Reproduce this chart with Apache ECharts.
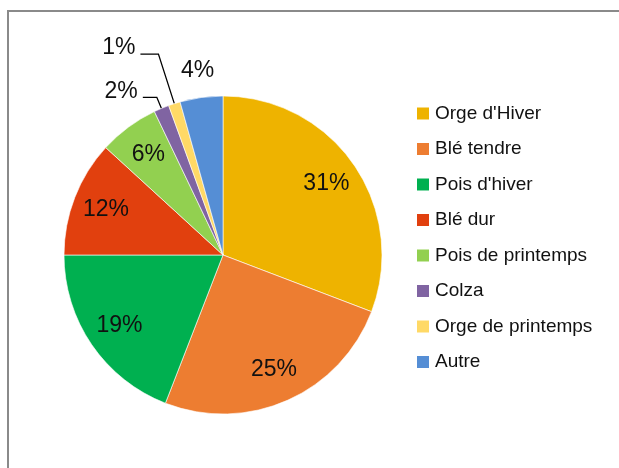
<!DOCTYPE html>
<html>
<head>
    <meta charset="utf-8">
    <title>Cultures</title>
    <script src="https://cdn.jsdelivr.net/npm/echarts@6/dist/echarts.min.js"></script>
    <style type="text/css">
        html,body{margin:0;padding:0;background:#fff;}
        #main{width:619px;height:468px;}
    </style>
</head>
<body>
    <div id="main"></div>
    <script type="text/javascript">
        // données (parts en %)
        var cultures = ['Orge d\'Hiver', 'Blé tendre', 'Pois d\'hiver', 'Blé dur', 'Pois de printemps', 'Colza', 'Orge de printemps', 'Autre'];
        var parts = [30.8, 25.1, 19.1, 11.8, 6.1, 1.55, 1.2, 4.35];
        var couleurs = ['#EEB300', '#ED7D31', '#00B050', '#E1400E', '#92D050', '#8064A2', '#FFD966', '#558ED5'];
        // où se trouve l'étiquette: 'inside' dans la part, 'line' avec trait, 'out' dehors sans trait
        var placeLabel = ['inside', 'inside', 'inside', 'inside', 'inside', 'line', 'line', 'out'];
        var traitLong = [0, 0, 0, 0, 0, 12, 52, 0];
        var traitLong2 = [0, 0, 0, 0, 0, 14, 18, 0];

        var police = 'Liberation Sans';
        var cx = 223, cy = 255, r = 159;

        function pct(p){ return Math.round(p) + '%'; }

        // série principale : les parts + étiquettes avec trait
        var dataMain = [];
        var dataIn = [];
        var dataOut = [];
        for (var i = 0; i < cultures.length; i++) {
            var avecTrait = placeLabel[i] === 'line';
            dataMain.push({
                name: cultures[i],
                value: parts[i],
                itemStyle: {color: couleurs[i]},
                label: {show: avecTrait},
                labelLine: {show: avecTrait, length: traitLong[i], length2: traitLong2[i]}
            });
            dataIn.push({name: cultures[i], value: parts[i], label: {show: placeLabel[i] === 'inside'}});
            dataOut.push({name: cultures[i], value: parts[i], label: {show: placeLabel[i] === 'out'}});
        }

        var transparent = {color: 'rgba(0,0,0,0)', borderWidth: 0};
        var tailleEtiq = 23;

        var myChart = echarts.init(document.getElementById('main'));
        var option = {
            animation: false,
            graphic: [{
                type: 'rect', silent: true,
                shape: {x: 8, y: 11, width: 700, height: 600},
                style: {fill: 'none', stroke: '#8a8a8a', lineWidth: 2}
            }],
            legend: {
                orient: 'vertical',
                left: 410, top: 99,
                icon: 'rect',
                itemWidth: 14, itemHeight: 14,
                itemGap: 16.5,
                selectedMode: false,
                data: cultures,
                textStyle: {color: '#111', fontFamily: police, fontSize: 19}
            },
            series: [
                {
                    name: 'parts', type: 'pie',
                    center: [cx, cy], radius: r,
                    startAngle: 90, clockwise: true,
                    avoidLabelOverlap: false,
                    itemStyle: {borderColor: '#fff', borderWidth: 0.6},
                    label: {
                        position: 'outside',
                        // texte au-dessus du trait : une ligne vide dessous
                        formatter: function(p){ return '{v|' + pct(p.value) + '}\n{e| }'; },
                        distanceToLabelLine: 5,
                        rich: {
                            v: {color: '#111', fontFamily: police, fontSize: tailleEtiq, lineHeight: 24},
                            e: {fontSize: 1, lineHeight: 12}
                        }
                    },
                    labelLine: {lineStyle: {color: '#000', width: 1.3}, smooth: false},
                    emphasis: {disabled: true},
                    data: dataMain
                },
                {
                    // étiquettes à l'intérieur
                    name: 'etiq', type: 'pie', silent: true,
                    center: [cx, cy], radius: [86, r],
                    startAngle: 90, clockwise: true,
                    avoidLabelOverlap: false,
                    itemStyle: transparent,
                    label: {
                        position: 'inside',
                        formatter: function(p){ return pct(p.value); },
                        color: '#111', fontFamily: police, fontSize: tailleEtiq
                    },
                    labelLine: {show: false},
                    emphasis: {disabled: true},
                    data: dataIn
                },
                {
                    // étiquette dehors sans trait (Autre)
                    name: 'etiq2', type: 'pie', silent: true,
                    center: [cx, cy], radius: [r, 207],
                    startAngle: 90, clockwise: true,
                    avoidLabelOverlap: false,
                    itemStyle: transparent,
                    label: {
                        position: 'inside',
                        formatter: function(p){ return pct(p.value); },
                        color: '#111', fontFamily: police, fontSize: tailleEtiq
                    },
                    labelLine: {show: false},
                    emphasis: {disabled: true},
                    data: dataOut
                }
            ]
        };
        myChart.setOption(option);
    </script>
</body>
</html>
